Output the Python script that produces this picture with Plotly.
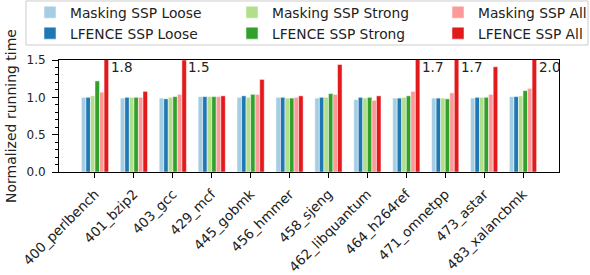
import plotly.graph_objects as go

categories = ["400_perlbench", "401_bzip2", "403_gcc", "429_mcf", "445_gobmk", "456_hmmer",
              "458_sjeng", "462_libquantum", "464_h264ref", "471_omnetpp", "473_astar", "483_xalancbmk"]

masking_loose = [1.00, 0.99, 0.99, 1.01, 1.00, 1.00, 0.99, 0.97, 0.99, 0.99, 0.99, 1.01]
lfence_loose = [1.00, 1.00, 0.98, 1.01, 1.02, 1.00, 1.00, 1.00, 0.99, 0.99, 1.00, 1.01]
masking_strong = [1.02, 1.00, 1.00, 1.01, 1.00, 0.99, 1.00, 0.99, 1.00, 0.99, 1.00, 1.02]
lfence_strong = [1.22, 1.00, 1.01, 1.01, 1.04, 0.99, 1.05, 1.00, 1.02, 0.98, 1.00, 1.09]
masking_all = [1.07, 1.00, 1.04, 1.01, 1.04, 1.00, 1.04, 0.96, 1.08, 1.06, 1.04, 1.12]
lfence_all = [1.8, 1.08, 1.5, 1.02, 1.24, 1.02, 1.44, 1.02, 1.7, 1.7, 1.41, 2.0]

series_names = ["Masking SSP Loose", "LFENCE SSP Loose", "Masking SSP Strong",
                "LFENCE SSP Strong", "Masking SSP All", "LFENCE SSP All"]
series_values = [masking_loose, lfence_loose, masking_strong, lfence_strong, masking_all, lfence_all]
series_colors = ["#a6cee3", "#1f78b4", "#b2df8a", "#33a02c", "#fb9a99", "#e31a1c"]
series_legends = ["legend", "legend", "legend2", "legend2", "legend3", "legend3"]

y_max = 1.5
x = list(range(len(categories)))

fig = go.Figure()
for name, vals, col, lg in zip(series_names, series_values, series_colors, series_legends):
    fig.add_trace(go.Bar(
        x=x, y=vals, name=name, legend=lg,
        marker=dict(color=col, line=dict(color="white", width=0.5)),
    ))

# value labels for bars cut at the top of the axis
for i, v in enumerate(lfence_all):
    if v >= y_max:
        fig.add_annotation(x=i + 0.35, y=1.4, text=f"{v:.1f}", showarrow=False,
                           xanchor="left", yanchor="middle",
                           font=dict(size=13.5, color="#222"))

# legend frame
fig.add_shape(type="rect", xref="paper", yref="paper",
              x0=-0.066, x1=1.058, y0=1.134, y1=1.527,
              line=dict(color="#cccccc", width=1), fillcolor="white", layer="below")

leg_common = dict(orientation="v", yanchor="top", xanchor="left", y=1.565,
                  bgcolor="rgba(0,0,0,0)", borderwidth=0,
                  font=dict(size=13.8, color="#222"), tracegroupgap=0)
fig.update_layout(
    width=590, height=275,
    margin=dict(l=59, r=31, t=60, b=103, autoexpand=False),
    paper_bgcolor="white", plot_bgcolor="white",
    font=dict(family="DejaVu Sans", color="#222"),
    barmode="group", bargap=0.3, bargroupgap=0,
    legend=dict(x=-0.058, **leg_common),
    legend2=dict(x=0.346, **leg_common),
    legend3=dict(x=0.758, **leg_common),
    xaxis=dict(
        range=[-0.925, len(categories) - 0.075],
        tickmode="array", tickvals=x, ticktext=categories,
        tickangle=-45, ticks="outside", ticklen=5, tickcolor="black", ticklabelstandoff=3,
        showline=True, linecolor="black", linewidth=1, mirror=True,
        showgrid=False, zeroline=False,
        tickfont=dict(size=13.5, color="#222"),
    ),
    yaxis=dict(
        range=[0, y_max],
        tickvals=[0, 0.5, 1.0, 1.5], ticktext=["0.0", "0.5", "1.0", "1.5"],
        ticks="outside", ticklen=6, tickcolor="black", ticklabelstandoff=4,
        minor=dict(dtick=0.1, ticks="outside", ticklen=3, tickcolor="black", showgrid=False),
        showline=True, linecolor="black", linewidth=1, mirror=True,
        showgrid=False, zeroline=False,
        tickfont=dict(size=12, color="#222"),
        title=dict(text="Normalized running time", font=dict(size=14, color="#222"), standoff=6),
    ),
)

fig.write_html("out.html", config={"displayModeBar": False},
               post_script="document.body.style.margin='0';")
